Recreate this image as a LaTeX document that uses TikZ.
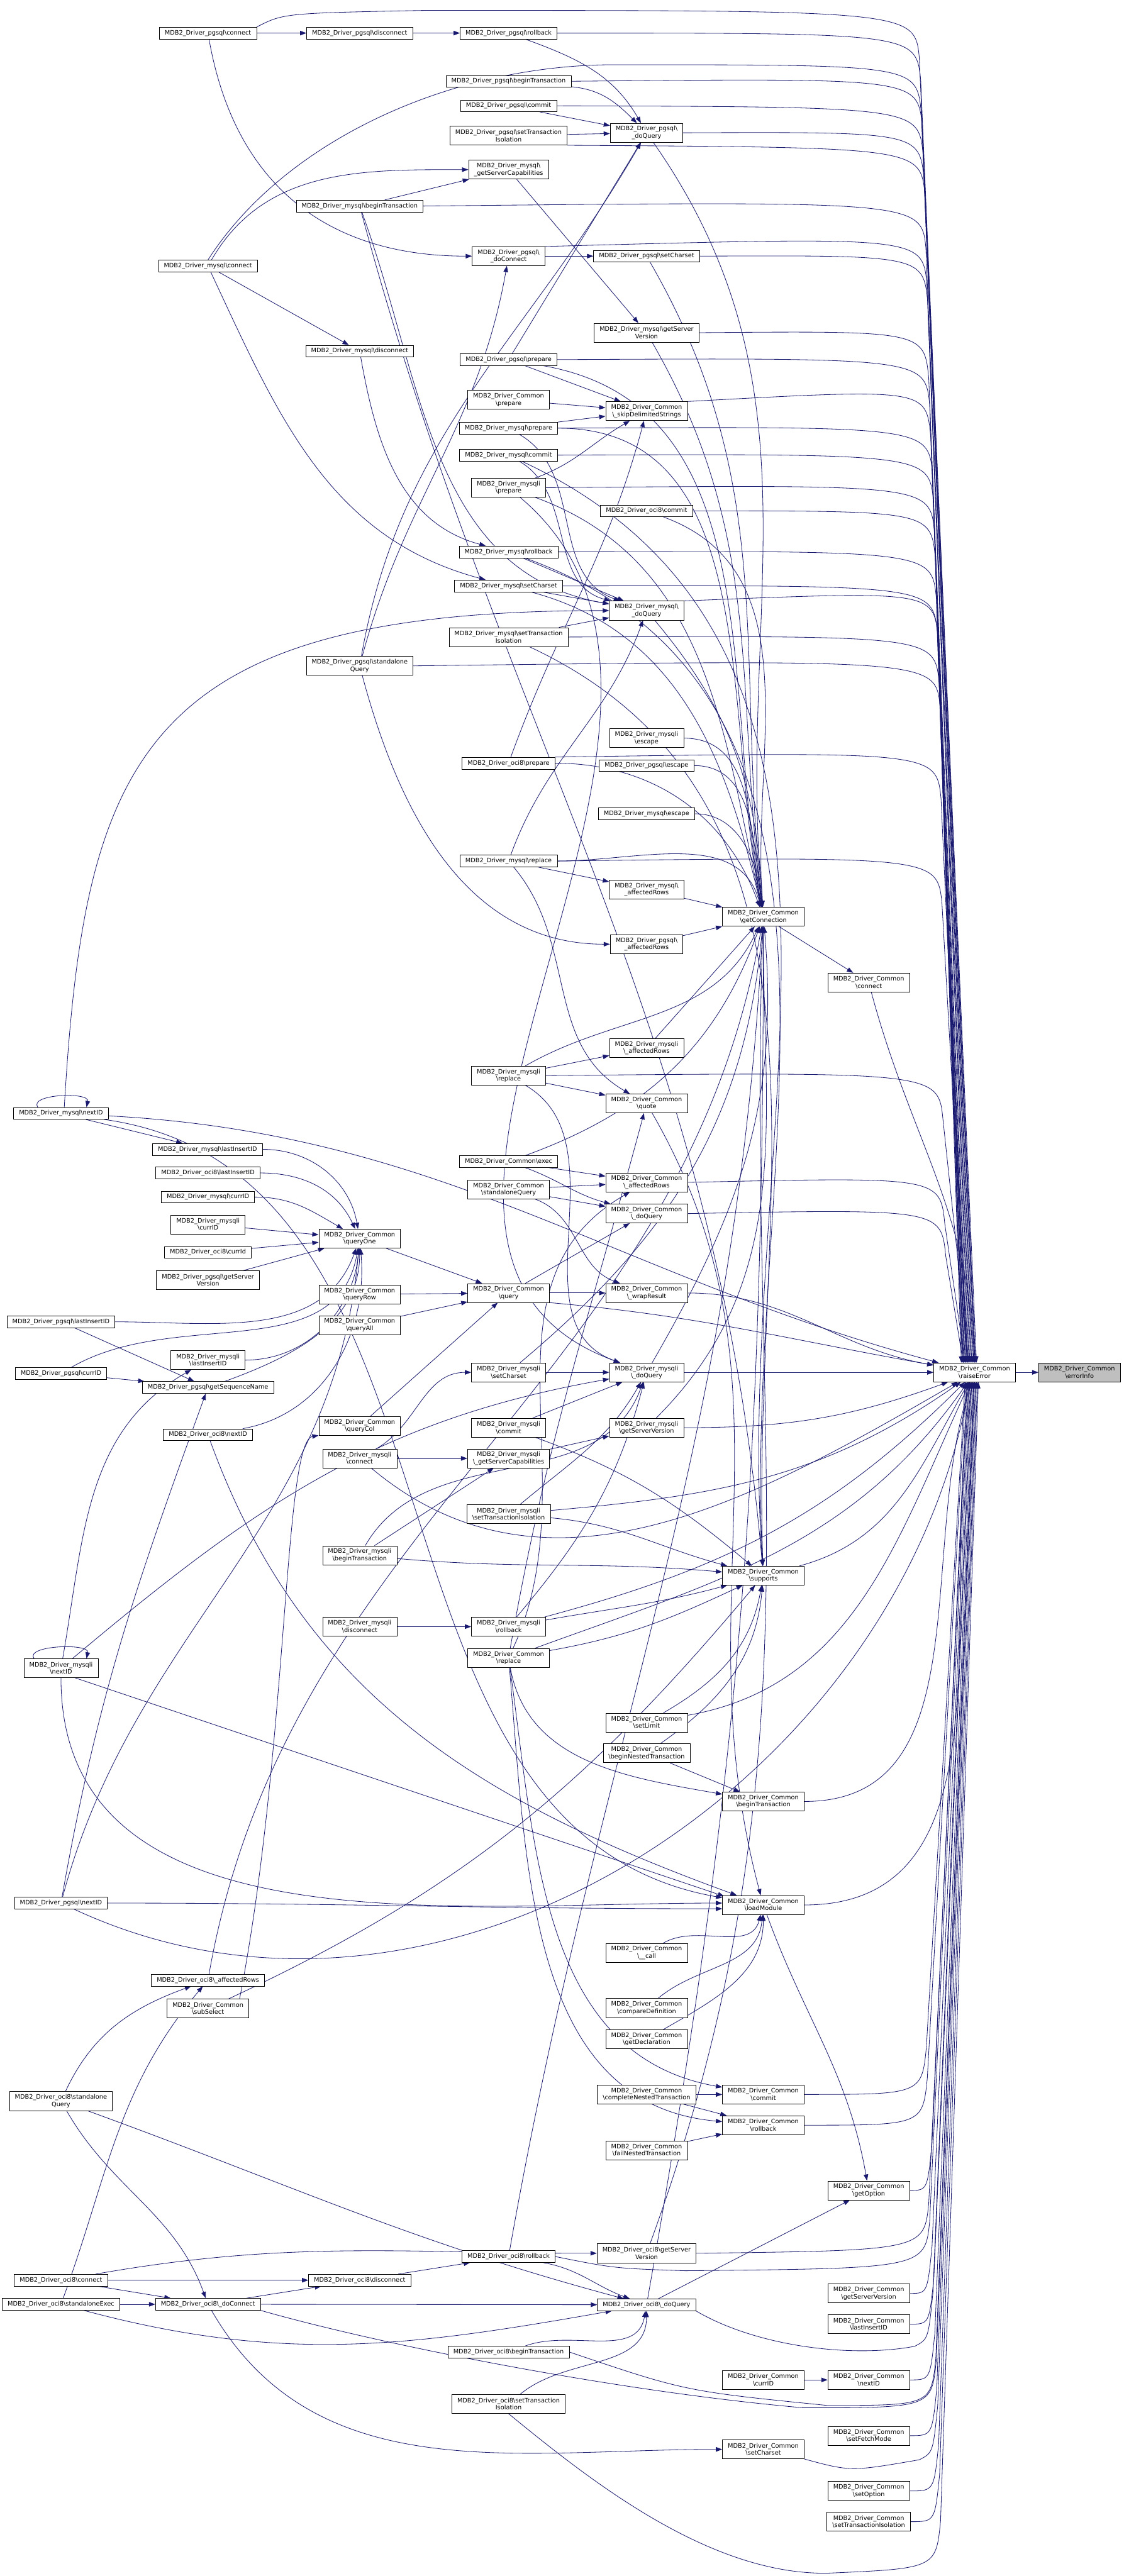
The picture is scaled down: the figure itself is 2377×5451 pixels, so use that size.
\documentclass[tikz,border=0pt]{standalone}
\usepackage{fontspec}
\setmainfont{DejaVu Sans}
\usetikzlibrary{arrows.meta}
\pgfdeclarelayer{back}
\pgfdeclarelayer{bg}
\pgfsetlayers{back,bg,main}
\definecolor{edgec}{RGB}{25,25,112}
\definecolor{hlgray}{RGB}{191,191,191}
\newcommand\bs{\textbackslash}
\newcommand\nCm{MDB2\_Driver\_Common}
\newcommand\nPg{MDB2\_Driver\_pgsql}
\newcommand\nMy{MDB2\_Driver\_mysql}
\newcommand\nMi{MDB2\_Driver\_mysqli}
\newcommand\nOc{MDB2\_Driver\_oci8}
\newcommand\Ed[3][]{\draw[dline] (#2) to[out=0,in=180,#1] (#3);}
\newcommand\Sd[2]{\draw[dline] (#1) -- (#2);}
\newcommand\TRd[4]{\draw[dline] #1 .. controls (#3,-#2) .. (#3+10,-#2-100) -- ([shift={(#4,0)}]rE.north);}
\newcommand\BRd[4]{\draw[dline] #1 .. controls (#3,-#2) .. (#3+10,-#2+100) -- ([shift={(#4,0)}]rE.south);}
\begin{document}
\begin{tikzpicture}[x=0.15pt,y=0.15pt,
  ebox/.style={draw=black,fill=white,line width=0.135pt,inner xsep=1.725pt,inner ysep=0.45pt,
    minimum height=3.75pt,align=center,font=\fontsize{1.95}{2.28}\selectfont},
  tall/.style={minimum height=6pt},
  dline/.style={draw=edgec,line width=0.165pt,-{Triangle[length=2pt,width=1.45pt]}}]
\begin{pgfonlayer}{back}
\fill[white] (0,0) rectangle (2377,-5451);
\end{pgfonlayer}
\useasboundingbox (0,0) rectangle (2377,-5451);
% ---------------- nodes
\node[ebox] (pgc) at (440,-70) {\nPg\bs connect};
\node[ebox] (pgd) at (761,-70) {\nPg\bs disconnect};
\node[ebox] (pgr) at (1076,-70) {\nPg\bs rollback};
\node[ebox] (pgb) at (1076,-172) {\nPg\bs beginTransaction};
\node[ebox] (pgm) at (1076,-224) {\nPg\bs commit};
\node[ebox,tall] (pgt) at (1076,-287) {\nPg\bs setTransaction\\Isolation};
\node[ebox,tall] (mgs) at (1076,-359) {\nMy\bs\\\_getServerCapabilities};
\node[ebox] (mb) at (761,-436) {\nMy\bs beginTransaction};
\node[ebox,tall] (pgdc) at (1076,-542) {\nPg\bs\\\_doConnect};
\node[ebox] (mc) at (440,-563) {\nMy\bs connect};
\node[ebox] (md) at (761,-743) {\nMy\bs disconnect};
\node[ebox] (pgp) at (1076,-761) {\nPg\bs prepare};
\node[ebox,tall] (cpr) at (1076,-846) {\nCm\\\bs prepare};
\node[ebox] (mp) at (1076,-906) {\nMy\bs prepare};
\node[ebox] (mm) at (1076,-963) {\nMy\bs commit};
\node[ebox,tall] (mip) at (1076,-1032) {\nMi\\\bs prepare};
\node[ebox] (mr) at (1076,-1168) {\nMy\bs rollback};
\node[ebox] (msc) at (1076,-1240) {\nMy\bs setCharset};
\node[ebox,tall] (mt) at (1076,-1348) {\nMy\bs setTransaction\\Isolation};
\node[ebox,tall] (pgq) at (1368,-281) {\nPg\bs\\\_doQuery};
\node[ebox] (pgsc) at (1368,-542) {\nPg\bs setCharset};
\node[ebox,tall] (mgv) at (1368,-704) {\nMy\bs getServer\\Version};
\node[ebox,tall] (csk) at (1368,-870) {\nCm\\\bs\_skipDelimitedStrings};
\node[ebox] (oc) at (1368,-1081) {\nOc\bs commit};
\node[ebox,tall] (mdq) at (1368,-1292) {\nMy\bs\\\_doQuery};
\node[ebox,tall] (pgsq) at (761,-1409) {\nPg\bs standalone\\Query};
\node[ebox] (op) at (1076,-1615) {\nOc\bs prepare};
\node[ebox] (mre) at (1076,-1822) {\nMy\bs replace};
\node[ebox,tall] (mire) at (1076,-2276) {\nMi\\\bs replace};
\node[ebox] (mn) at (129,-2356) {\nMy\bs nextID};
\node[ebox] (mli) at (439,-2432) {\nMy\bs lastInsertID};
\node[ebox] (oli) at (440,-2482) {\nOc\bs lastInsertID};
\node[ebox] (mci) at (440,-2533) {\nMy\bs currID};
\node[ebox,tall] (mici) at (440,-2591) {\nMi\\\bs currID};
\node[ebox] (oci) at (440,-2650) {\nOc\bs currId};
\node[ebox,tall] (pgv) at (440,-2709) {\nPg\bs getServer\\Version};
\node[ebox,tall] (qo) at (761,-2621) {\nCm\\\bs queryOne};
\node[ebox] (cex) at (1076,-2458) {\nCm\bs exec};
\node[ebox,tall] (csq) at (1076,-2517) {\nCm\\\bs standaloneQuery};
\node[ebox,tall] (qr) at (761,-2739) {\nCm\\\bs queryRow};
\node[ebox,tall] (cq) at (1076,-2736) {\nCm\\\bs query};
\node[ebox,tall] (mie) at (1368,-1562) {\nMi\\\bs escape};
\node[ebox] (pge) at (1368,-1620) {\nPg\bs escape};
\node[ebox] (me) at (1368,-1722) {\nMy\bs escape};
\node[ebox,tall] (mar) at (1368,-1882) {\nMy\bs\\\_affectedRows};
\node[ebox,tall] (gc) at (1615,-1940) {\nCm\\\bs getConnection};
\node[ebox,tall] (par) at (1368,-1998) {\nPg\bs\\\_affectedRows};
\node[ebox,tall] (cc) at (1838,-2079) {\nCm\\\bs connect};
\node[ebox,tall] (miar) at (1368,-2218) {\nMi\\\bs\_affectedRows};
\node[ebox,tall] (qt) at (1368,-2335) {\nCm\\\bs quote};
\node[ebox,tall] (car) at (1368,-2502) {\nCm\\\bs\_affectedRows};
\node[ebox,tall] (cdq) at (1368,-2568) {\nCm\\\bs\_doQuery};
\node[ebox,tall] (cwr) at (1368,-2736) {\nCm\\\bs\_wrapResult};
\node[ebox,tall] (qa) at (761,-2804) {\nCm\\\bs queryAll};
\node[ebox] (pgli) at (129,-2797) {\nPg\bs lastInsertID};
\node[ebox,tall] (mili) at (440,-2878) {\nMi\\\bs lastInsertID};
\node[ebox] (pgci) at (129,-2906) {\nPg\bs currID};
\node[ebox] (pgsn) at (440,-2936) {\nPg\bs getSequenceName};
\node[ebox] (on) at (440,-3036) {\nOc\bs nextID};
\node[ebox,tall] (qc) at (761,-3017) {\nCm\\\bs queryCol};
\node[ebox,tall] (mic) at (761,-3086) {\nMi\\\bs connect};
\node[ebox,tall] (misc) at (1076,-2904) {\nMi\\\bs setCharset};
\node[ebox,tall] (mim) at (1076,-3021) {\nMi\\\bs commit};
\node[ebox,tall] (migs) at (1076,-3086) {\nMi\\\bs\_getServerCapabilities};
\node[ebox,tall] (mit) at (1076,-3204) {\nMi\\\bs setTransactionIsolation};
\node[ebox,tall] (mib) at (761,-3291) {\nMi\\\bs beginTransaction};
\node[ebox,tall] (mid) at (761,-3442) {\nMi\\\bs disconnect};
\node[ebox,tall] (mir) at (1076,-3442) {\nMi\\\bs rollback};
\node[ebox,tall] (crp) at (1076,-3508) {\nCm\\\bs replace};
\node[ebox,tall] (min) at (129,-3530) {\nMi\\\bs nextID};
\node[ebox] (pgn) at (129,-4027) {\nPg\bs nextID};
\node[ebox,tall] (midq) at (1368,-2904) {\nMi\\\bs\_doQuery};
\node[ebox,tall] (migv) at (1368,-3021) {\nMi\\\bs getServerVersion};
\node[ebox,tall] (rE) at (2062,-2904) {\nCm\\\bs raiseError};
\node[ebox,tall,fill=hlgray] (ei) at (2284,-2904) {\nCm\\\bs errorInfo};
\node[ebox,tall] (sp) at (1615,-3334) {\nCm\\\bs supports};
\node[ebox,tall] (csl) at (1368,-3645) {\nCm\\\bs setLimit};
\node[ebox,tall] (cbn) at (1368,-3710) {\nCm\\\bs beginNestedTransaction};
\node[ebox,tall] (cbt) at (1615,-3812) {\nCm\\\bs beginTransaction};
\node[ebox,tall] (lm) at (1615,-4031) {\nCm\\\bs loadModule};
\node[ebox,tall] (ccall) at (1368,-4132) {\nCm\\\bs\_\_call};
\node[ebox] (oar) at (440,-4190) {\nOc\bs\_affectedRows};
\node[ebox,tall] (css) at (440,-4250) {\nCm\\\bs subSelect};
\node[ebox,tall] (osq) at (129,-4446) {\nOc\bs standalone\\Query};
\node[ebox] (orb) at (1076,-4775) {\nOc\bs rollback};
\node[ebox] (ocn) at (129,-4825) {\nOc\bs connect};
\node[ebox] (od) at (761,-4825) {\nOc\bs disconnect};
\node[ebox] (ose) at (129,-4876) {\nOc\bs standaloneExec};
\node[ebox] (odc) at (440,-4876) {\nOc\bs\_doConnect};
\node[ebox] (ob) at (1076,-4977) {\nOc\bs beginTransaction};
\node[ebox,tall] (ot) at (1076,-5087) {\nOc\bs setTransaction\\Isolation};
\node[ebox,tall] (ccd) at (1368,-4249) {\nCm\\\bs compareDefinition};
\node[ebox,tall] (cgd) at (1368,-4315) {\nCm\\\bs getDeclaration};
\node[ebox,tall] (ccn) at (1368,-4432) {\nCm\\\bs completeNestedTransaction};
\node[ebox,tall] (ccm) at (1615,-4432) {\nCm\\\bs commit};
\node[ebox,tall] (crb) at (1615,-4497) {\nCm\\\bs rollback};
\node[ebox,tall] (cfn) at (1368,-4550) {\nCm\\\bs failNestedTransaction};
\node[ebox,tall] (cgo) at (1838,-4635) {\nCm\\\bs getOption};
\node[ebox,tall] (ogv) at (1368,-4768) {\nOc\bs getServer\\Version};
\node[ebox] (odq) at (1368,-4877) {\nOc\bs\_doQuery};
\node[ebox,tall] (cgsv) at (1838,-4853) {\nCm\\\bs getServerVersion};
\node[ebox,tall] (clid) at (1838,-4918) {\nCm\\\bs lastInsertID};
\node[ebox,tall] (cci) at (1615,-5036) {\nCm\\\bs currID};
\node[ebox,tall] (cni) at (1838,-5036) {\nCm\\\bs nextID};
\node[ebox,tall] (csfm) at (1838,-5154) {\nCm\\\bs setFetchMode};
\node[ebox,tall] (cscs) at (1615,-5183) {\nCm\\\bs setCharset};
\node[ebox,tall] (cso) at (1838,-5271) {\nCm\\\bs setOption};
\node[ebox,tall] (csti) at (1838,-5336) {\nCm\\\bs setTransactionIsolation};
% ---------------- edges
\begin{pgfonlayer}{bg}
% pgsql top
\Sd{pgc}{pgd}
\Sd{pgd}{pgr}
\Ed[out=-80,in=180,looseness=1.1]{pgc}{pgdc}
\TRd{(pgc.north east) .. controls (600,-28) .. (900,-22)}{22}{1935}{4}
\Ed[out=-20,in=120]{pgr}{pgq}
\TRd{(pgr.east)}{70}{1938}{2}
\Ed[out=-5,in=135]{pgb}{pgq}
\TRd{(pgb.east)}{165}{1941}{0}
\Sd{pgm}{pgq}
\TRd{(pgm.east)}{226}{1943}{-2}
\Sd{pgt}{pgq}
\TRd{(pgt.south east)}{312}{1947}{-6}
\TRd{(pgq.east)}{279}{1945}{-4}
\Ed[out=-55,in=95]{pgq}{gc}
\Sd{pgdc}{pgsc}
\TRd{(pgdc.north east)}{500}{1951}{-10}
\TRd{(pgsc.east)}{540}{1953}{-12}
\Ed[out=-60,in=96]{pgsc}{gc}
% mysql
\Ed[out=60,in=180]{mc}{mgs}
\TRd{(mc.north) .. controls (600,-300) and (950,-137) .. (1300,-137)}{137}{1939}{1}
\Sd{mc}{md}
\Ed[out=-65,in=165]{mc}{msc}
\Sd{mb}{mgs}
\TRd{(mb.east)}{425}{1949}{-8}
\Ed[out=-70,in=170]{mb}{mdq}
\Ed[out=-75,in=95]{mb}{sp}
\Sd{mgs}{mgv}
\Ed[out=-80,in=165]{md}{mr}
\TRd{(mgv.east)}{700}{1955}{-14}
\Ed[out=-60,in=97]{mgv}{gc}
\Sd{pgp}{pgq}
\Sd{pgp}{csk}
\Ed[out=-10,in=100]{pgp}{gc}
\TRd{(pgp.east)}{757}{1957}{-16}
\Sd{cpr}{csk}
\TRd{(csk.north east)}{822}{1959}{-18}
\Sd{mp}{csk}
\Ed[out=-30,in=160]{mp}{mdq}
\Ed[out=0,in=101]{mp}{gc}
\TRd{(mp.east)}{902}{1963}{-22}
\Ed[out=-30,in=165]{mm}{mdq}
\Ed[out=-25,in=94]{mm}{sp}
\TRd{(mm.east)}{960}{1965}{-24}
\Ed[out=20,in=-150]{mip}{csk}
\Ed[out=-20,in=102]{mip}{gc}
\Ed[out=-40,in=160]{mip}{midq}
\TRd{(mip.east)}{1025}{1967}{-26}
\Ed[out=-20,in=94]{oc}{gc}
\TRd{(oc.east)}{1081}{1969}{-28}
\Sd{mr}{mdq}
\Ed[out=-20,in=93]{mr}{sp}
\TRd{(mr.east)}{1165}{1971}{-26}
\Sd{msc}{mdq}
\Ed[out=-15,in=103]{msc}{gc}
\TRd{(msc.east)}{1238}{1973}{-24}
\Sd{mt}{mdq}
\Ed[out=-25,in=92]{mt}{sp}
\TRd{(mt.east)}{1345}{1977}{-20}
\Ed[out=-50,in=93]{mdq}{gc}
\TRd{(mdq.north east)}{1250}{1975}{-22}
% pgsql standalone / oci8 prepare / escapes
\Ed[out=75,in=-100]{pgsq}{pgdc}
\Ed[out=80,in=-120]{pgsq}{pgq}
\Ed[out=-75,in=180]{pgsq}{par}
\TRd{(pgsq.east)}{1395}{1979}{-18}
\Ed[out=70,in=-105]{op}{csk}
\Ed[out=0,in=110]{op}{gc}
\TRd{(op.north east)}{1590}{1981}{-16}
\Ed[out=0,in=100]{mie}{gc}
\Ed[out=0,in=98]{pge}{gc}
\Ed[out=0,in=96]{me}{gc}
\Sd{mar}{gc}
\Sd{par}{gc}
\Ed[out=0,in=105]{mre}{gc}
\Sd{mre}{mar}
\Ed[out=70,in=-110]{mre}{mdq}
\Ed[out=-50,in=150]{mre}{qt}
\TRd{(mre.east)}{1812}{1983}{-14}
\Sd{gc}{cc}
\Ed[out=-75,in=92]{cc}{rE}
\Ed[out=30,in=-115]{mire}{gc}
\Sd{mire}{miar}
\Sd{mire}{qt}
\Ed[out=-30,in=160]{mire}{midq}
\TRd{(mire.east)}{2268}{1985}{-12}
\Sd{miar}{gc}
\Ed[out=-60,in=105]{qt}{lm}
% mysql nextID
\draw[dline] ([shift={(-49,0)}]mn.north) .. controls +(-20,28) and +(7,33) .. ([shift={(54,0)}]mn.north);
\Sd{mn}{mli}
\draw[dline] ([shift={(7,0)}]mn.north) .. controls (180,-1600) and (300,-1292) .. (mdq.west);
\Ed[out=-3,in=165]{mn}{rE}
\Ed[out=-8,in=170]{mn}{lm}
% queryOne callers
\Ed[out=0,in=100]{mli}{qo}
\Ed[out=0,in=115]{oli}{qo}
\Ed[out=0,in=150]{mci}{qo}
\Sd{mici}{qo}
\Sd{oci}{qo}
\Sd{pgv}{qo}
\Ed[out=0,in=-110]{pgli}{qo}
\Sd{pgli}{pgsn}
\Sd{pgci}{pgsn}
\Ed[out=30,in=-100]{pgci}{qo}
\Ed[out=20,in=-90]{pgsn}{qo}
\Ed[out=0,in=-95]{mili}{qo}
\Ed[out=10,in=-85]{on}{qo}
\Ed[out=-70,in=160]{on}{lm}
\Ed[out=80,in=-110]{pgn}{pgsn}
\Ed[out=75,in=-95]{pgn}{qo}
\draw[dline] (pgn) to[out=0,in=180] ([shift={(0,-8)}]lm.west);
\draw[dline] (pgn) to[out=-25,in=-100] ([shift={(-10,0)}]rE.south);
% query family
\Sd{qo}{cq}
\Sd{qr}{cq}
\Sd{qa}{cq}
\Sd{qc}{cq}
\Sd{cq}{cdq}
\Sd{cq}{cwr}
\draw[dline] (cq.south east) to[out=-5,in=170] (rE);
\Sd{cex}{car}
\Ed[out=-20,in=165]{cex}{cdq}
\Ed[out=20,in=-110]{cex}{gc}
\Sd{csq}{car}
\Sd{csq}{cdq}
\Ed[out=-20,in=160]{csq}{cwr}
\TRd{(car.east)}{2490}{1989}{-20}
\TRd{(cdq.east)}{2558}{1991}{-24}
\Ed[out=0,in=170]{cwr}{rE}
% mysqli
\draw[dline] ([shift={(-57,0)}]min.north) .. controls +(-20,28) and +(7,33) .. ([shift={(54,0)}]min.north);
\Ed[out=80,in=-150]{min}{mili}
\Ed[out=40,in=190]{min}{midq}
\draw[dline] (min) to[out=-90,in=180] ([shift={(0,4)}]lm.west);
\draw[dline] ([shift={(30,0)}]min.south) -- ([shift={(4,-2)}]lm.north west);
\Ed[out=30,in=180]{mic}{misc}
\Sd{mic}{migs}
\Ed[out=-40,in=-150]{mic}{rE}
\Sd{misc}{midq}
\Ed[out=40,in=-95]{misc}{gc}
\Sd{mim}{midq}
\Ed[out=-20,in=140]{mim}{sp}
\Sd{migs}{migv}
\Ed[out=45,in=-90]{migv}{gc}
\Ed[out=0,in=-160]{migv}{rE}
\Ed[out=40,in=-120]{mit}{midq}
\Ed[out=-5,in=165]{mit}{sp}
\Ed[out=5,in=-145]{mit}{rE}
\Sd{mib}{migs}
\Ed[out=60,in=-110]{mib}{midq}
\Ed[out=-5,in=175]{mib}{sp}
\Sd{mid}{mir}
\Ed[out=50,in=-105]{mir}{midq}
\Ed[out=10,in=-165]{mir}{sp}
\Ed[out=15,in=-135]{mir}{rE}
\Ed[out=10,in=-155]{crp}{sp}
\Ed[out=80,in=-105]{crp}{qt}
\Ed[out=65,in=-150]{crp}{car}
\Ed[out=20,in=-125]{crp}{rE}
\Ed[out=-80,in=170]{crp}{cbt}
\Ed[out=-82,in=170]{crp}{ccm}
\Ed[out=-85,in=175]{crp}{crb}
\Ed[out=60,in=-85]{midq}{gc}
\Sd{midq}{rE}
\Sd{rE}{ei}
% supports, transactions, modules
\Ed[out=15,in=-120]{sp}{rE}
\Ed[out=30,in=-100]{csl}{sp}
\Ed[out=10,in=-115]{csl}{rE}
\Ed[out=35,in=-95]{cbn}{sp}
\Sd{cbn}{cbt}
\Ed[out=0,in=-108]{cbt}{rE}
\Ed[out=0,in=-100]{lm}{rE}
\Ed[out=-70,in=100]{lm}{cgo}
\Ed[out=30,in=-105]{ccall}{lm}
\Ed[out=40,in=-95]{ccd}{lm}
\Ed[out=30,in=-90]{cgd}{lm}
\Sd{ccn}{ccm}
\Sd{ccn}{crb}
\Sd{cfn}{crb}
\BRd{(ccm.east)}{4432}{1950}{-20}
\BRd{(crb.east)}{4497}{1952}{-18}
\BRd{(cgo.east)}{4635}{1962}{-16}
\BRd{(ogv.east)}{4762}{1955}{-14}
\BRd{(orb.east) .. controls (1300,-4800) .. (1450,-4805)}{4800}{1957}{-12}
\BRd{(cgsv.east)}{4853}{1962}{-10}
\BRd{(odq.south east) .. controls (1600,-4965) and (1800,-4990) .. (1935,-4965)}{4950}{1964}{-8}
\BRd{(clid.east)}{4918}{1966}{-6}
\BRd{(cni.east)}{5036}{1968}{-4}
\BRd{(ob.east) .. controls (1450,-5060) .. (1750,-5090)}{5090}{1970}{-2}
\BRd{(odc.south east) .. controls (800,-4960) and (1300,-5060) .. (1700,-5095)}{5095}{1971}{-1}
\BRd{(csfm.east)}{5154}{1972}{0}
\BRd{(cscs.south east) .. controls (1800,-5230) .. (1945,-5205)}{5190}{1974}{2}
\BRd{(cso.east)}{5271}{1976}{4}
\BRd{(csti.east)}{5336}{1978}{6}
\BRd{(ot.south) .. controls (1250,-5250) and (1500,-5448) .. (1750,-5445)}{5435}{1980}{8}
% oci8
\Ed[out=70,in=-92]{ogv}{gc}
\Ed[out=80,in=-90]{odq}{gc}
\Ed[out=80,in=-100]{oar}{gc}
\Ed[out=80,in=-93]{orb}{gc}
\Sd{ocn}{od}
\Sd{ocn}{odc}
\Ed[out=10,in=180]{ocn}{ogv}
\Sd{ose}{odc}
\Ed[out=70,in=-130]{ose}{oar}
\Ed[out=-15,in=190]{ose}{odq}
\Ed[out=65,in=-160]{osq}{oar}
\Ed[out=-60,in=110]{osq}{odc}
\Ed[out=-20,in=165]{osq}{odq}
\Sd{odc}{od}
\Sd{odc}{odq}
\Ed[out=-60,in=180]{odc}{cscs}
\Sd{od}{orb}
\Ed[out=-10,in=160]{orb}{odq}
\Sd{odq}{cgo}
\Ed[out=20,in=-100]{ob}{odq}
\Ed[out=40,in=-90]{ot}{odq}
\Sd{cci}{cni}
\draw[dline] ([shift={(-20,0)}]css.north east) .. controls (610,-3700) and (600,-3050) .. (qc.south west);
\Ed[out=25,in=-130]{css}{sp}
\end{pgfonlayer}
\end{tikzpicture}
\end{document}
